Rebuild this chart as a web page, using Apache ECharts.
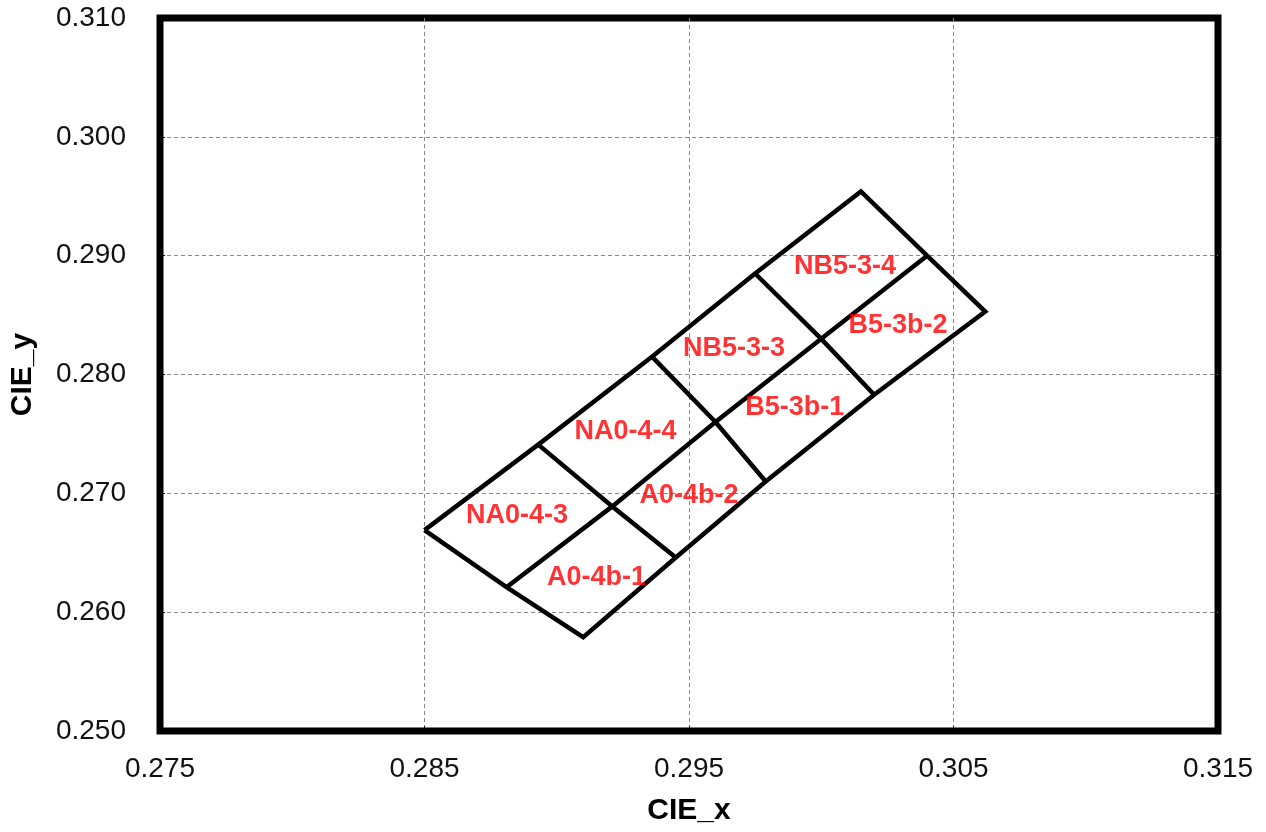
<!DOCTYPE html>
<html>
<head>
<meta charset="utf-8">
<script src="https://cdn.jsdelivr.net/npm/echarts@6/dist/echarts.min.js"></script>
<style>
  html, body { margin: 0; padding: 0; background: #fff; }
  #chart { width: 1266px; height: 832px; }
</style>
</head>
<body>
<div id="chart"></div>
<script>
// Tick labels
const xTicks = [0.275, 0.285, 0.295, 0.305, 0.315];
const yMin = 0.25, yMax = 0.31, yStep = 0.01;

// Bin boundary polylines (CIE x, CIE y)
const outline = [
  [0.2850, 0.2669], [0.2893, 0.2741], [0.2936, 0.2815], [0.2975, 0.2885],
  [0.3015, 0.2954], [0.3040, 0.2900], [0.3062, 0.2853], [0.3020, 0.2783],
  [0.2979, 0.2710], [0.2945, 0.2646], [0.2910, 0.2579], [0.2881, 0.2621],
  [0.2850, 0.2669]
];
const middleLine = [[0.2881, 0.2621], [0.2921, 0.2689], [0.2960, 0.2760], [0.3000, 0.2830], [0.3040, 0.2900]];
const crossLine1 = [[0.2893, 0.2741], [0.2921, 0.2689], [0.2945, 0.2646]];
const crossLine2 = [[0.2936, 0.2815], [0.2960, 0.2760], [0.2979, 0.2710]];
const crossLine3 = [[0.2975, 0.2885], [0.3000, 0.2830], [0.3020, 0.2783]];

// Bin names and label anchor positions
const binNames = ['NA0-4-3', 'A0-4b-1', 'NA0-4-4', 'A0-4b-2', 'NB5-3-3', 'B5-3b-1', 'NB5-3-4', 'B5-3b-2'];
const binLabelX = [0.2885, 0.2915, 0.2926, 0.2950, 0.2967, 0.2990, 0.3009, 0.3029];
const binLabelY = [0.2681, 0.2629, 0.2752, 0.2698, 0.2822, 0.2772, 0.2891, 0.2841];

const lines = [outline, middleLine, crossLine1, crossLine2, crossLine3];

const chart = echarts.init(document.getElementById('chart'), null, { renderer: 'canvas' });

const lineSeries = lines.map(pts => ({
  type: 'line',
  data: pts,
  symbol: 'none',
  silent: true,
  z: 5,
  lineStyle: { color: '#000', width: 4.5, join: 'miter' }
}));

const labelSeries = {
  type: 'scatter',
  symbolSize: 0,
  z: 6,
  silent: true,
  data: binNames.map((n, i) => ({ name: n, value: [binLabelX[i], binLabelY[i]] })),
  label: {
    show: true,
    position: 'inside',
    formatter: p => p.name,
    color: '#ff0000',
    fontFamily: 'Liberation Sans, Arial, sans-serif',
    fontWeight: 'bold',
    fontSize: 27
  }
};

const axisFont = { fontFamily: 'Liberation Sans, Arial, sans-serif' };

chart.setOption({
  animation: false,
  backgroundColor: '#fff',
  grid: {
    left: 159, right: 48, top: 18, bottom: 101,
    show: true, borderColor: '#000', borderWidth: 7, backgroundColor: 'transparent',
    containLabel: false
  },
  xAxis: {
    type: 'value',
    min: 0.275, max: 0.315,
    name: 'CIE_x',
    nameLocation: 'middle',
    nameGap: 65,
    nameTextStyle: Object.assign({ fontSize: 30, fontWeight: 'bold', color: '#000' }, axisFont),
    axisLine: { show: false },
    axisTick: { show: true, inside: true, length: 5, customValues: xTicks, lineStyle: { color: '#000', width: 1 } },
    axisLabel: Object.assign({
      customValues: xTicks, fontSize: 28, color: '#111', margin: 24,
      formatter: v => v.toFixed(3), showMinLabel: true, showMaxLabel: true
    }, axisFont),
    splitLine: { show: true, showMinLine: false, showMaxLine: false, lineStyle: { color: '#888', width: 1, type: [4, 3] } }
  },
  yAxis: {
    type: 'value',
    min: yMin, max: yMax, interval: yStep,
    name: 'CIE_y',
    nameLocation: 'middle',
    nameGap: 122,
    nameTextStyle: Object.assign({ fontSize: 30, fontWeight: 'bold', color: '#000' }, axisFont),
    axisLine: { show: false },
    axisTick: { show: true, inside: true, length: 5, lineStyle: { color: '#000', width: 1 } },
    axisLabel: Object.assign({
      fontSize: 28, color: '#111', margin: 34,
      formatter: v => v.toFixed(3), showMinLabel: true, showMaxLabel: true
    }, axisFont),
    splitLine: { show: true, showMinLine: false, showMaxLine: false, lineStyle: { color: '#888', width: 1, type: [4, 3] } }
  },
  series: lineSeries.concat([labelSeries])
});
</script>
</body>
</html>
